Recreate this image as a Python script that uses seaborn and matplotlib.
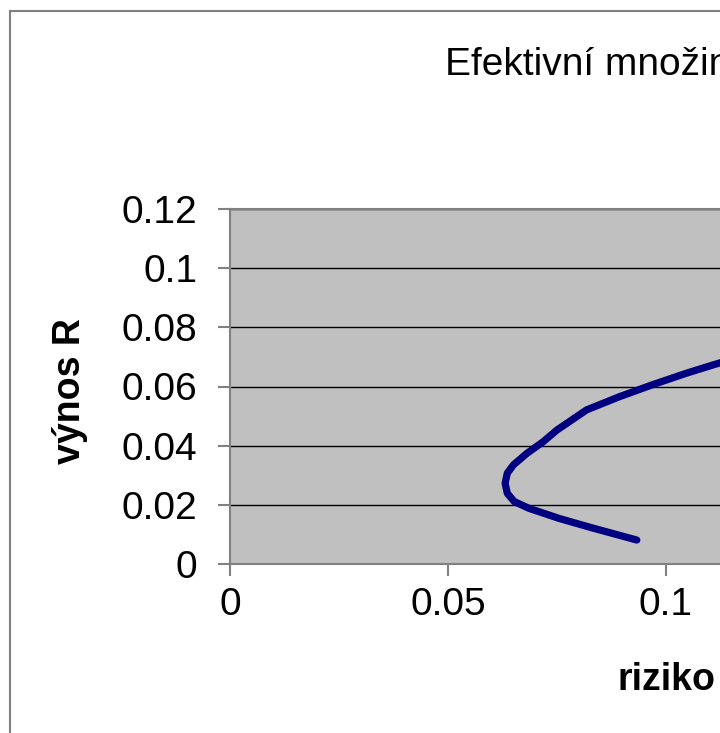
import numpy as np
import pandas as pd
import matplotlib
matplotlib.use("Agg")
import matplotlib.pyplot as plt
import seaborn as sns
from matplotlib.patches import Rectangle

# ── data (riziko = risk, výnos = return) ──
riziko = [0.0933, 0.0826, 0.0755, 0.0686, 0.0652, 0.0636, 0.0631, 0.0636,
          0.0650, 0.0681, 0.0718, 0.0750, 0.0818, 0.0894, 0.0971, 0.1047,
          0.1108, 0.1170]
vynos = [0.0081, 0.0124, 0.0154, 0.0188, 0.0211, 0.0239, 0.0273, 0.0307,
         0.0335, 0.0374, 0.0413, 0.0453, 0.0521, 0.0566, 0.0607, 0.0645,
         0.0673, 0.0700]
y_ticks = [0, 0.02, 0.04, 0.06, 0.08, 0.1, 0.12]
y_labels = ["0", "0.02", "0.04", "0.06", "0.08", "0.1", "0.12"]
x_ticks = [0, 0.05, 0.1, 0.15, 0.2]
x_labels = ["0", "0.05", "0.1", "0.15", "0.2"]

df = pd.DataFrame({"riziko": riziko, "vynos": vynos})

sns.set_style("white")
plt.rcParams["font.family"] = ["Liberation Sans", "DejaVu Sans"]
plt.rcParams["text.color"] = "black"
plt.rcParams["xtick.labelcolor"] = "black"
plt.rcParams["ytick.labelcolor"] = "black"

W, H = 720, 733
fig = plt.figure(figsize=(W / 100, H / 100), dpi=100)

# outer chart frame (extends past the cropped right/bottom edges)
fig.patches.append(Rectangle((9.5 / W, -0.1), 2.0, 1 - 11 / H + 0.1,
                             transform=fig.transFigure, fill=False,
                             edgecolor="#808080", linewidth=1.5))

ax = fig.add_axes([230 / W, (H - 564) / H, 872 / W, (564 - 209) / H])
ax.set_facecolor("#C0C0C0")

# estimator=None: the curve bends back, so no aggregation on x
sns.lineplot(data=df, x="riziko", y="vynos", sort=False, estimator=None,
             ax=ax, color="#000080", linewidth=5.2, solid_capstyle="round",
             solid_joinstyle="round")

ax.set_xlim(0, 0.2)
ax.set_ylim(0, 0.12)
ax.set_yticks(y_ticks, y_labels)
ax.set_xticks(x_ticks, x_labels)
ax.yaxis.grid(True, color="black", linewidth=1)
ax.set_axisbelow(True)
ax.tick_params(axis="both", labelsize=28, length=8.6, width=1.5,
               color="#808080", direction="out", left=True, bottom=True)
ax.tick_params(axis="y", pad=15)
ax.tick_params(axis="x", pad=8)
for s in ax.spines.values():
    s.set_color("#808080")
    s.set_linewidth(1.5)
ax.set_xlabel("")
ax.set_ylabel("")

fig.text(445 / W, 1 - 75 / H, "Efektivní množina", fontsize=28,
         ha="left", va="baseline")
fig.text(618 / W, 1 - 690 / H, "riziko", fontsize=27, fontweight="bold",
         ha="left", va="baseline")
fig.text(70 / W, 1 - 391 / H, "výnos R", fontsize=27, fontweight="bold",
         rotation=90, ha="center", va="center")

fig.savefig("out.png", dpi=100)
